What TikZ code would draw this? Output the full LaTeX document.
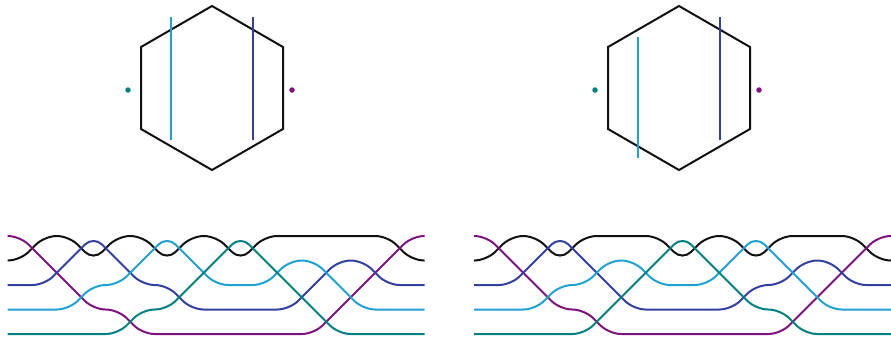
\documentclass[tikz,border=0pt]{standalone}
\definecolor{bpurple}{RGB}{128,18,128}
\definecolor{bteal}{RGB}{0,128,128}
\definecolor{bdblue}{RGB}{50,64,160}
\definecolor{blblue}{RGB}{30,162,212}
\definecolor{bblack}{RGB}{17,17,17}
\tikzset{
  strand/.style={line width=2pt, rounded corners=12pt},
  hexa/.style={line width=2pt, draw=bblack, line join=miter},
  chord/.style={line width=2pt},
  dotmark/.style={circle, inner sep=0pt, minimum size=5.5pt},
}
\newcommand\braidstrand[5]{%
  \draw[strand,#1] ({#2-12.5},{236+24.5*#3})
    \foreach \lv [count=\k from 0] in {#4} { -- ({#2+24.5*\k},{236+24.5*\lv}) }
    -- ({#2+404.5},{236+24.5*#5});
}
\begin{document}
\begin{tikzpicture}[x=1pt,y=-1pt]
\useasboundingbox (0,0) rectangle (891,338);
% left hexagon
\draw[hexa] (212,6) coordinate (ha1) -- (283,47) coordinate (ha2) -- (283,129) coordinate (ha3)
  -- (212,170) coordinate (ha4) -- (141,129) coordinate (ha5) -- (141,47) coordinate (ha6) -- cycle;
\draw[chord,blblue] (171,17) coordinate (la1) -- (171,140) coordinate (la2);
\draw[chord,bdblue] (253,17) coordinate (da1) -- (253,140) coordinate (da2);
\node[dotmark,fill=bteal] (ta) at (128,90) {};
\node[dotmark,fill=bpurple] (pa) at (292,90) {};
% right hexagon
\draw[hexa] (679,6) coordinate (hb1) -- (750,47) coordinate (hb2) -- (750,129) coordinate (hb3)
  -- (679,170) coordinate (hb4) -- (608,129) coordinate (hb5) -- (608,47) coordinate (hb6) -- cycle;
\draw[chord,blblue] (638,37) coordinate (lb1) -- (638,158) coordinate (lb2);
\draw[chord,bdblue] (720,17) coordinate (db1) -- (720,140) coordinate (db2);
\node[dotmark,fill=bteal] (tb) at (595,90) {};
\node[dotmark,fill=bpurple] (pb) at (759,90) {};
% left braid
\braidstrand{bblack}{20}{1}{1,0,0,1,0,0,1,0,0,1,0,0,0,0,0,0,1}{1}
\braidstrand{bpurple}{20}{0}{0,1,2,3,3,4,4,4,4,4,4,4,4,3,2,1,0}{0}
\braidstrand{bdblue}{20}{2}{2,2,1,0,1,2,2,3,3,3,3,3,2,1,1,2,2}{2}
\braidstrand{blblue}{20}{3}{3,3,3,2,2,1,0,1,2,2,2,1,1,2,3,3,3}{3}
\braidstrand{bteal}{20}{4}{4,4,4,4,4,3,3,2,1,0,1,2,3,4,4,4,4}{4}
% right braid
\braidstrand{bblack}{486.5}{1}{1,0,0,1,0,0,0,0,1,0,0,1,0,0,0,0,1}{1}
\braidstrand{bpurple}{486.5}{0}{0,1,2,3,3,4,4,4,4,4,4,4,4,3,2,1,0}{0}
\braidstrand{bdblue}{486.5}{2}{2,2,1,0,1,2,3,3,3,3,3,2,2,1,1,2,2}{2}
\braidstrand{blblue}{486.5}{3}{3,3,3,2,2,1,1,2,2,2,1,0,1,2,3,3,3}{3}
\braidstrand{bteal}{486.5}{4}{4,4,4,4,4,3,2,1,0,1,2,3,3,4,4,4,4}{4}
\end{tikzpicture}
\end{document}
